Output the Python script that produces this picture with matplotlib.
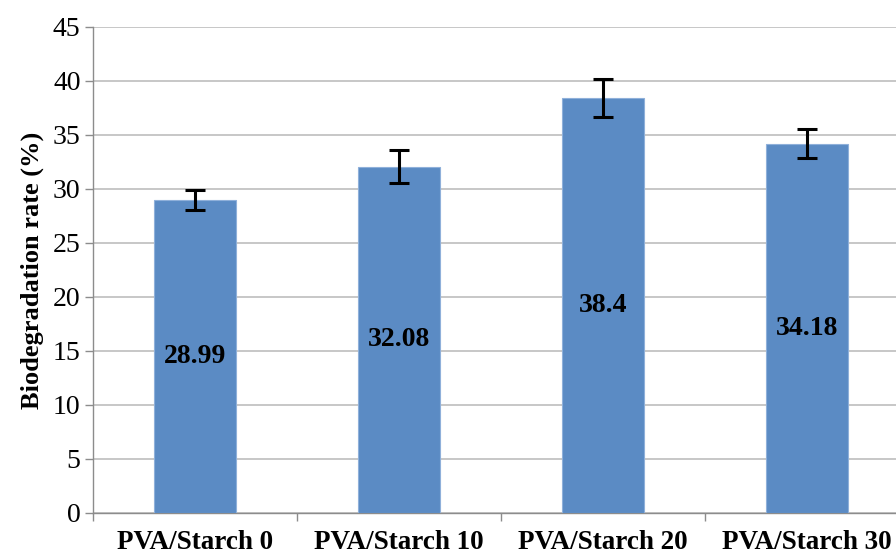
import matplotlib
matplotlib.use("Agg")
import matplotlib.pyplot as plt
import numpy as np

categories = ["PVA/Starch 0", "PVA/Starch 10", "PVA/Starch 20", "PVA/Starch 30"]
values = [28.99, 32.08, 38.4, 34.18]
errors = [0.95, 1.5, 1.75, 1.35]
value_labels = ["28.99", "32.08", "38.4", "34.18"]
yticks = [0, 5, 10, 15, 20, 25, 30, 35, 40, 45]

plt.rcParams['font.family'] = ['Liberation Serif', 'DejaVu Serif']

fig = plt.figure(figsize=(8.96, 5.55), dpi=100)
ax = fig.add_axes([93/896, 42/555, (909-93)/896, (513-27)/555])

x = np.arange(len(categories))
ax.bar(x, values, width=0.4, color='#5B8BC4', edgecolor='#8FB0DA', linewidth=0.8, zorder=3)
ax.errorbar(x, values, yerr=errors, fmt='none', ecolor='black', elinewidth=2.2,
            capsize=7, capthick=2.2, zorder=4)
for xi, v, lab in zip(x, values, value_labels):
    ax.text(xi, v/2, lab, ha='center', va='center', fontsize=20, fontweight='bold',
            color='black', zorder=5)

ax.set_ylim(0, 45)
ax.set_xlim(-0.5, len(categories)-0.5)
ax.set_yticks(yticks)
ax.set_yticklabels([str(t) for t in yticks], fontsize=20)
ax.set_xticks(x)
ax.set_xticklabels(categories, fontsize=19.5, fontweight='bold')
ax.set_xticks(np.arange(-0.5, len(categories), 1.0), minor=True)
ax.tick_params(axis='x', which='major', length=0, pad=12)
ax.tick_params(axis='x', which='minor', length=6, color='#8C8C8C', width=1)
ax.tick_params(axis='y', length=6, color='#8C8C8C', width=1, pad=3)
ax.grid(axis='y', color='#BEBEBE', linewidth=1.2, zorder=0)
ax.set_axisbelow(True)
for s in ['top', 'right']:
    ax.spines[s].set_visible(False)
for s in ['left', 'bottom']:
    ax.spines[s].set_color('#8C8C8C')
    ax.spines[s].set_linewidth(1)
ax.set_ylabel("Biodegradation rate (%)", fontsize=19, fontweight='bold', labelpad=6)

fig.savefig("out.png", dpi=100)
